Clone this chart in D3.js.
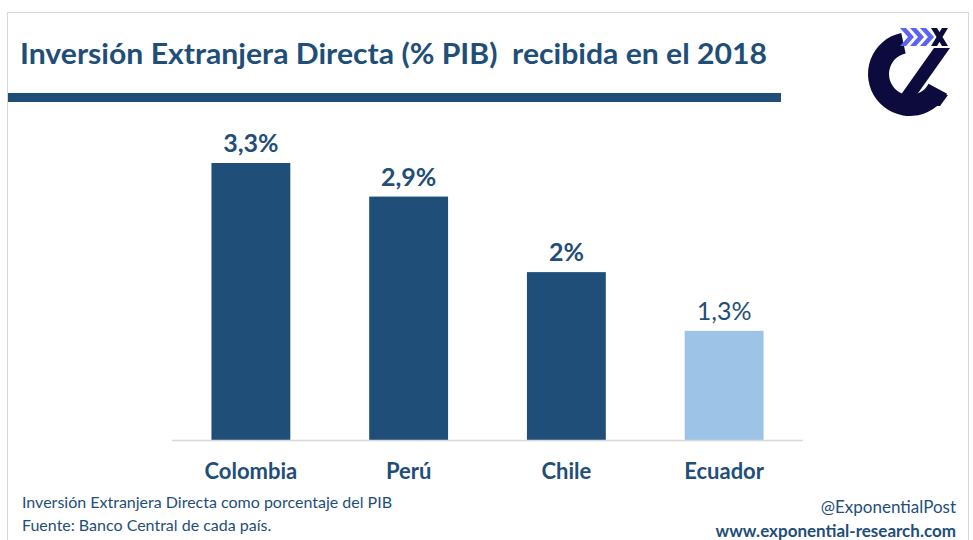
<!DOCTYPE html>
<html>
<head>
<meta charset="utf-8">
<script src="https://cdn.jsdelivr.net/npm/d3@7"></script>
<style>
  body { margin: 0; background: #fff; }
  svg { display: block; font-family: "Liberation Sans Narrow", Lato, "Open Sans", sans-serif; }
</style>
</head>
<body>
<div id="chart"></div>
<script>
// data
const countries = ["Colombia", "Perú", "Chile", "Ecuador"];
const values = [3.3, 2.9, 2.0, 1.3];
const valueLabels = ["3,3%", "2,9%", "2%", "1,3%"];
const highlight = [false, false, false, true];

const W = 973, H = 540;
const dark = "#1F4E79", light = "#9DC3E6";

const svg = d3.select("#chart").append("svg")
    .attr("width", W)
    .attr("height", H);

// frame
svg.append("rect")
    .attr("x", 7.5).attr("y", 12.5)
    .attr("width", 961).attr("height", 540)
    .attr("fill", "none")
    .attr("stroke", "#D9D9D9");

// title + rule
svg.append("text")
    .attr("x", 20).attr("y", 64)
    .attr("font-size", 28)
    .attr("font-weight", "bold")
    .attr("fill", dark)
    .attr("textLength", 747)
    .attr("lengthAdjust", "spacingAndGlyphs")
    .style("white-space", "pre")
    .text("Inversión Extranjera Directa (% PIB)  recibida en el 2018");

svg.append("rect")
    .attr("x", 8).attr("y", 93)
    .attr("width", 773).attr("height", 9)
    .attr("fill", dark);

// logo (decorative)
const navy = "#0D0B3E";
const logo = svg.append("g").attr("transform", "translate(910,74)");
logo.append("path")
    .attr("d", d3.arc()
        .innerRadius(21).outerRadius(42)
        .startAngle(118 * Math.PI / 180)
        .endAngle(348 * Math.PI / 180)())
    .attr("fill", navy);
// diagonal stroke
logo.append("path")
    .attr("d", "M24,-26 L40,-26 L6,22 L-10,22 Z")
    .attr("fill", navy);
// bottom join to the right end of the C
logo.append("path")
    .attr("d", "M-10,21 L38,21 L30,32 L-14,32 Z")
    .attr("fill", navy);
[-10, 0, 10].forEach(dx => {
    logo.append("path")
        .attr("d", `M${dx},-46 L${dx + 6},-46 L${dx + 14},-37 L${dx + 6},-28 L${dx},-28 L${dx + 8},-37 Z`)
        .attr("fill", "#5C62F2");
});
logo.append("path")
    .attr("d", "M21,-46 L27,-46 L38,-28 L32,-28 Z M32,-46 L38,-46 L27,-28 L21,-28 Z")
    .attr("fill", navy);

// chart
const x = d3.scaleBand()
    .domain(countries)
    .range([172, 803])
    .paddingInner(0.5)
    .paddingOuter(0.25);

const y = d3.scaleLinear()
    .domain([0, 3.3])
    .range([440, 163]);

const data = countries.map((c, i) => ({ country: c, value: values[i], label: valueLabels[i], hi: highlight[i] }));

svg.selectAll(".bar")
    .data(data)
    .enter()
    .append("rect")
    .attr("class", "bar")
    .attr("x", d => x(d.country))
    .attr("y", d => y(d.value))
    .attr("width", x.bandwidth())
    .attr("height", d => y(0) - y(d.value))
    .attr("fill", d => d.hi ? light : dark);

svg.append("line")
    .attr("x1", 172).attr("x2", 803)
    .attr("y1", 440.5).attr("y2", 440.5)
    .attr("stroke", "#D9D9D9")
    .attr("stroke-width", 1.5);

svg.selectAll(".val")
    .data(data)
    .enter()
    .append("text")
    .attr("class", "val")
    .attr("x", d => x(d.country) + x.bandwidth() / 2)
    .attr("y", d => y(d.value) - 11)
    .attr("text-anchor", "middle")
    .attr("font-size", 25)
    .attr("font-weight", d => d.hi ? "normal" : "bold")
    .attr("fill", dark)
    .text(d => d.label);

svg.selectAll(".cat")
    .data(data)
    .enter()
    .append("text")
    .attr("class", "cat")
    .attr("x", d => x(d.country) + x.bandwidth() / 2)
    .attr("y", 479)
    .attr("text-anchor", "middle")
    .attr("font-size", 22)
    .attr("font-weight", "bold")
    .attr("fill", dark)
    .text(d => d.country);

// footer
svg.append("text")
    .attr("x", 22).attr("y", 508)
    .attr("font-size", 16)
    .attr("fill", dark)
    .text("Inversión Extranjera Directa como porcentaje del PIB");
svg.append("text")
    .attr("x", 22).attr("y", 531)
    .attr("font-size", 16)
    .attr("fill", dark)
    .text("Fuente: Banco Central de cada país.");

svg.append("text")
    .attr("x", 956).attr("y", 513)
    .attr("text-anchor", "end")
    .attr("font-size", 17)
    .attr("fill", dark)
    .text("@ExponentialPost");
svg.append("text")
    .attr("x", 956).attr("y", 537)
    .attr("text-anchor", "end")
    .attr("font-size", 17)
    .attr("font-weight", "bold")
    .attr("fill", dark)
    .text("www.exponential-research.com");
</script>
</body>
</html>
